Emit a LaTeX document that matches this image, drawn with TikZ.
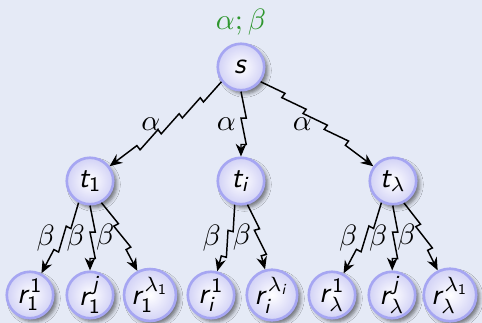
\documentclass[tikz,border=0pt]{standalone}
\usetikzlibrary{decorations.pathmorphing,shadows.blur,arrows.meta}
\DeclareMathAlphabet{\mathsfsl}{OT1}{cmss}{m}{sl}
\newcommand{\sv}[1]{\mathsfsl{#1}}
\newcommand{\su}[1]{\mathsf{#1}}
\definecolor{bg}{HTML}{E5EAF6}
\definecolor{nodeborder}{HTML}{A6A6F2}
\definecolor{nodeedge}{HTML}{D2D2F6}
\definecolor{titlegreen}{HTML}{2E962E}
\begin{document}
\begin{tikzpicture}[x=0.34pt,y=-0.34pt,
  vert/.style={circle, draw=nodeborder, line width=0.9pt, minimum size=15.8pt,
    inner sep=0pt, inner color=white, outer color=nodeedge,
    blur shadow={shadow xshift=1.2pt, shadow yshift=-1.2pt, shadow blur radius=1.2pt, shadow opacity=50}},
  zz/.style={-{Stealth[length=4.3pt,width=3.6pt]}, line width=0.5pt, decorate,
    decoration={saw, segment length=9pt, amplitude=1.8pt, post length=3pt}},
  lab/.style={left, inner sep=1.5pt}]
\path[use as bounding box, fill=bg] (0,0) rectangle (482,323);
\node[text=titlegreen] (title) at (241,22) {$\alpha;\beta$};
\node[vert] (s)   at (241,67)  {$\sv{s}$};
\node[vert] (t1)  at (90,181)  {$\sv{t}_{\su{1}}$};
\node[vert] (ti)  at (241,181) {$\sv{t}_{\sv{i}}$};
\node[vert] (tl)  at (393,181) {$\sv{t}_{\lambda}$};
\node[vert] (r11) at (30,295)  {$\sv{r}^{\su{1}}_{\su{1}}$};
\node[vert] (r1j) at (90,295)  {$\sv{r}^{\sv{j}}_{\su{1}}$};
\node[vert] (r1l) at (150,295) {$\sv{r}^{\lambda_{\su{1}}}_{\su{1}}$};
\node[vert] (ri1) at (211,295) {$\sv{r}^{\su{1}}_{\sv{i}}$};
\node[vert] (ril) at (272,295) {$\sv{r}^{\lambda_{\sv{i}}}_{\sv{i}}$};
\node[vert] (rl1) at (332,295) {$\sv{r}^{\su{1}}_{\lambda}$};
\node[vert] (rlj) at (392,295) {$\sv{r}^{\sv{j}}_{\lambda}$};
\node[vert] (rll) at (450,295) {$\sv{r}^{\lambda_{\su{1}}}_{\lambda}$};
\draw[zz] (s) -- node[lab] {$\alpha$} (t1);
\draw[zz] (s) -- node[lab] {$\alpha$} (ti);
\draw[zz] (s) -- node[lab] {$\alpha$} (tl);
\draw[zz] (t1) -- node[lab] {$\beta$} (r11);
\draw[zz] (t1) -- node[lab] {$\beta$} (r1j);
\draw[zz] (t1) -- node[lab] {$\beta$} (r1l);
\draw[zz] (ti) -- node[lab] {$\beta$} (ri1);
\draw[zz] (ti) -- node[lab] {$\beta$} (ril);
\draw[zz] (tl) -- node[lab] {$\beta$} (rl1);
\draw[zz] (tl) -- node[lab] {$\beta$} (rlj);
\draw[zz] (tl) -- node[lab] {$\beta$} (rll);
\end{tikzpicture}
\end{document}
